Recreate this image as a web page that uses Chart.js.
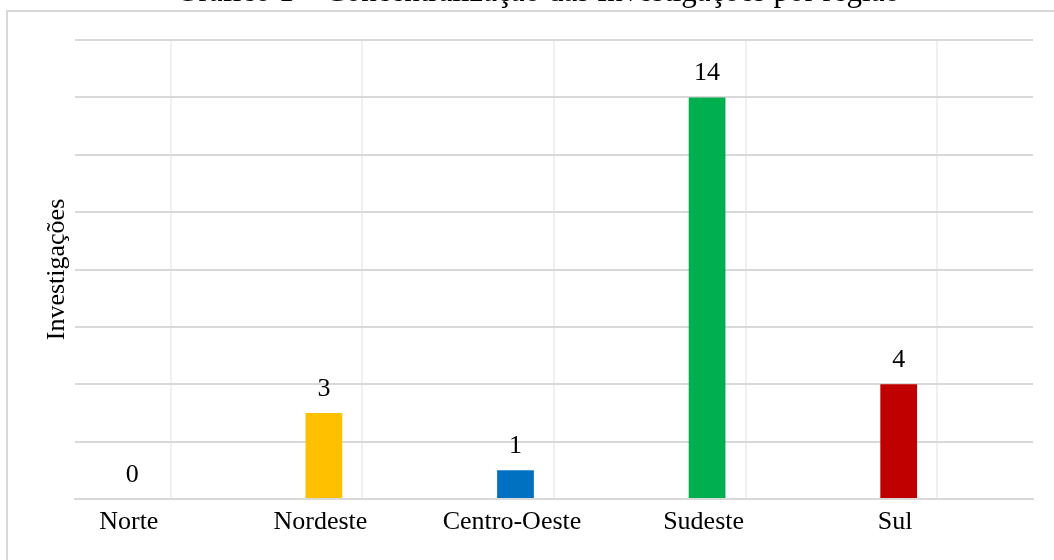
<!DOCTYPE html>
<html lang="pt-BR">
<head>
<meta charset="utf-8">
<title>Investigações por região</title>
<script src="https://cdn.jsdelivr.net/npm/chart.js@4/dist/chart.umd.min.js"></script>
<style>
  html, body { margin: 0; padding: 0; background: #ffffff; overflow: hidden; }
  #wrap { position: relative; width: 1054px; height: 560px; }
</style>
</head>
<body>
<div id="wrap"><canvas id="grafico" width="1054" height="560"></canvas></div>
<script>
// Dados
const regioes = ['Norte', 'Nordeste', 'Centro-Oeste', 'Sudeste', 'Sul'];
const investigacoes = [0, 3, 1, 14, 4];
// segunda série da planilha, sem valores
const serieSemValores = [null, null, null, null, null];
const escalaY = { min: 0, max: 16, passo: 2 };
const tituloGrafico = 'Gráfico 1 – Concentralização das Investigações por região';
const tituloEixoY = 'Investigações';

// Estilo
const coresRegioes = ['#7f7f7f', '#ffc000', '#0070c0', '#00b050', '#c00000'];
const fonteSerif = "'Liberation Serif', 'Times New Roman', serif";

// Moldura e título (o título fica parcialmente acima da área visível)
const molduraTitulo = {
  id: 'molduraTitulo',
  beforeDraw(chart) {
    const ctx = chart.ctx;
    ctx.save();
    ctx.strokeStyle = '#d9d9d9';
    ctx.lineWidth = 2;
    ctx.strokeRect(7, 11, 1100, 600);
    ctx.restore();
  },
  afterDraw(chart) {
    const ctx = chart.ctx;
    ctx.save();
    ctx.fillStyle = '#000000';
    ctx.font = '31px ' + fonteSerif;
    ctx.textAlign = 'center';
    ctx.textBaseline = 'alphabetic';
    ctx.fillText(tituloGrafico, 538, 1);
    ctx.restore();
  }
};

// Rótulos de valor acima de cada barra
const rotulosValor = {
  id: 'rotulosValor',
  afterDatasetsDraw(chart) {
    const ctx = chart.ctx;
    const meta = chart.getDatasetMeta(0);
    const valores = chart.data.datasets[0].data;
    ctx.save();
    ctx.fillStyle = '#000000';
    ctx.font = '26px ' + fonteSerif;
    ctx.textAlign = 'center';
    ctx.textBaseline = 'alphabetic';
    meta.data.forEach((barra, i) => {
      ctx.fillText(String(valores[i]), barra.x, barra.y - 17);
    });
    ctx.restore();
  }
};

new Chart(document.getElementById('grafico'), {
  type: 'bar',
  data: {
    labels: regioes,
    datasets: [
      {
        label: 'Investigações',
        data: investigacoes,
        backgroundColor: coresRegioes,
        borderWidth: 0,
        categoryPercentage: 0.804,
        barPercentage: 0.477
      },
      {
        label: '',
        data: serieSemValores,
        backgroundColor: '#ffffff',
        borderWidth: 0,
        categoryPercentage: 0.804,
        barPercentage: 0.477
      }
    ]
  },
  options: {
    responsive: false,
    devicePixelRatio: 1,
    animation: false,
    layout: { padding: { left: 38, right: 21, top: 40, bottom: 0 } },
    plugins: {
      legend: { display: false },
      tooltip: { enabled: false },
      title: { display: false }
    },
    scales: {
      x: {
        grid: { offset: false, color: '#f0f0f0', lineWidth: 2, drawTicks: false },
        border: { display: true, color: '#d9d9d9', width: 2 },
        ticks: {
          font: { family: fonteSerif, size: 26 },
          color: '#000000',
          padding: 8,
          labelOffset: -42,
          maxRotation: 0,
          autoSkip: false
        },
        afterFit(scale) { scale.height = 61; }
      },
      y: {
        min: escalaY.min,
        max: escalaY.max,
        ticks: { display: false, stepSize: escalaY.passo },
        grid: { color: '#d9d9d9', lineWidth: 2, drawTicks: false },
        border: { display: false },
        title: {
          display: true,
          text: tituloEixoY,
          font: { family: fonteSerif, size: 26 },
          color: '#000000',
          padding: { top: 4, bottom: 4 }
        },
        afterFit(scale) { scale.width = 37; }
      }
    }
  },
  plugins: [molduraTitulo, rotulosValor]
});
</script>
</body>
</html>
